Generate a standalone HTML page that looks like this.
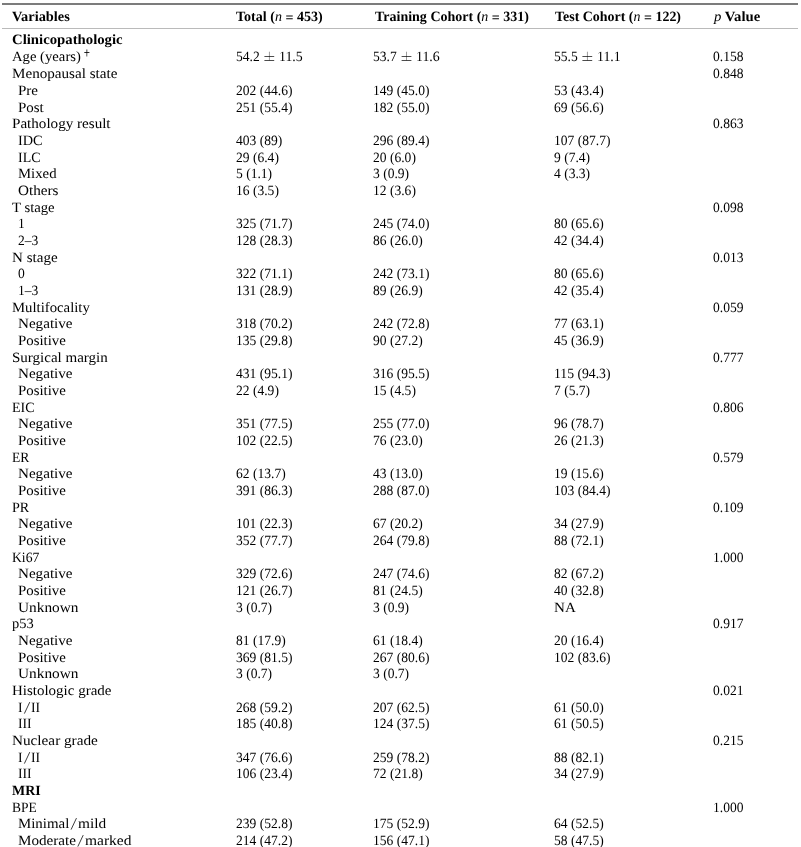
<!DOCTYPE html>
<html><head><meta charset="utf-8"><style>
html,body{margin:0;padding:0;background:#fff;}
body{width:801px;height:847px;position:relative;overflow:hidden;font-family:"Liberation Serif",serif;font-size:14.2px;color:#000;}
#w{position:absolute;left:0;top:0;width:801px;height:847px;will-change:transform;text-rendering:geometricPrecision;}
.t{position:absolute;white-space:nowrap;line-height:14.2px;transform-origin:0 0;}
.b{font-weight:bold;}
.sup{font-size:9px;line-height:9px;}
.pm{font-size:14px;line-height:14px;}
.r1{position:absolute;left:2px;width:796px;top:3px;height:2px;background:#7c7c7c;}
.r2{position:absolute;left:2px;width:796px;top:28px;height:1px;background:#bababa;}
i{font-style:italic;font-weight:normal;}
.eq{position:relative;top:1.4px;}
</style></head><body>
<div id="w"><div class="r1"></div><div class="r2"></div>
<div class="t b" style="left:12.3px;top:10.00px;transform:scaleX(1.0135)">Variables</div>
<div class="t b" style="left:236px;top:10.00px;transform:scaleX(0.9898)">Total (<i>n</i> <span class="eq">=</span> 453)</div>
<div class="t b" style="left:374.5px;top:10.00px;transform:scaleX(0.9870)">Training Cohort (<i>n</i> <span class="eq">=</span> 331)</div>
<div class="t b" style="left:555.2px;top:10.00px;transform:scaleX(0.9831)">Test Cohort (<i>n</i> <span class="eq">=</span> 122)</div>
<div class="t b" style="left:713.7px;top:10.00px;transform:scaleX(1.0367)"><i>p</i> Value</div>
<div class="t b" style="left:11.7px;top:33.00px;transform:scaleX(1.0396)">Clinicopathologic</div>
<div class="t " style="left:11.7px;top:50.00px;transform:scaleX(1.0345)">Age (years)</div>
<svg style="position:absolute;left:0;top:0" width="801" height="100"><rect x="84.3" y="52.1" width="5.1" height="0.85" fill="#000"/><path d="M86.15 49.6 L87.45 49.6 L87.3 56.6 L86.3 56.6 Z" fill="#000" fill-opacity="0.6"/></svg>
<div class="t " style="left:236px;top:50.00px;transform:scaleX(0.9551)">54.2</div>
<svg style="position:absolute;left:0;top:0;overflow:visible" width="801" height="100"><rect x="264.4" y="56.05" width="9.8" height="0.7" fill="#000"/><rect x="264.4" y="60.05" width="9.8" height="0.7" fill="#000"/><rect x="268.94999999999993" y="51.7" width="0.7" height="8.7" fill="#000" fill-opacity="0.55"/></svg>
<div class="t " style="left:278.8px;top:50.00px;transform:scaleX(0.9753)">11.5</div>
<div class="t " style="left:373.2px;top:50.00px;transform:scaleX(0.9551)">53.7</div>
<svg style="position:absolute;left:0;top:0;overflow:visible" width="801" height="100"><rect x="401.59999999999997" y="56.05" width="9.8" height="0.7" fill="#000"/><rect x="401.59999999999997" y="60.05" width="9.8" height="0.7" fill="#000"/><rect x="406.1499999999999" y="51.7" width="0.7" height="8.7" fill="#000" fill-opacity="0.55"/></svg>
<div class="t " style="left:416.0px;top:50.00px;transform:scaleX(0.9753)">11.6</div>
<div class="t " style="left:554.0px;top:50.00px;transform:scaleX(0.9551)">55.5</div>
<svg style="position:absolute;left:0;top:0;overflow:visible" width="801" height="100"><rect x="582.4" y="56.05" width="9.8" height="0.7" fill="#000"/><rect x="582.4" y="60.05" width="9.8" height="0.7" fill="#000"/><rect x="586.9499999999999" y="51.7" width="0.7" height="8.7" fill="#000" fill-opacity="0.55"/></svg>
<div class="t " style="left:596.8px;top:50.00px;transform:scaleX(0.9753)">11.1</div>
<div class="t " style="left:713.4px;top:50.00px;transform:scaleX(0.9551)">0.158</div>
<div class="t " style="left:11.7px;top:67.00px;transform:scaleX(1.0656)">Menopausal state</div>
<div class="t " style="left:713.4px;top:67.00px;transform:scaleX(0.9551)">0.848</div>
<div class="t " style="left:18.4px;top:84.00px;transform:scaleX(1.0584)">Pre</div>
<div class="t " style="left:236px;top:84.00px;transform:scaleX(0.9550)">202 (44.6)</div>
<div class="t " style="left:373.2px;top:84.00px;transform:scaleX(0.9550)">149 (45.0)</div>
<div class="t " style="left:554.0px;top:84.00px;transform:scaleX(0.9550)">53 (43.4)</div>
<div class="t " style="left:18.4px;top:101.00px;transform:scaleX(1.0528)">Post</div>
<div class="t " style="left:236px;top:101.00px;transform:scaleX(0.9550)">251 (55.4)</div>
<div class="t " style="left:373.2px;top:101.00px;transform:scaleX(0.9550)">182 (55.0)</div>
<div class="t " style="left:554.0px;top:101.00px;transform:scaleX(0.9550)">69 (56.6)</div>
<div class="t " style="left:11.7px;top:117.00px;transform:scaleX(1.0644)">Pathology result</div>
<div class="t " style="left:713.4px;top:117.00px;transform:scaleX(0.9551)">0.863</div>
<div class="t " style="left:18.4px;top:134.00px;transform:scaleX(1.0091)">IDC</div>
<div class="t " style="left:236px;top:134.00px;transform:scaleX(0.9550)">403 (89)</div>
<div class="t " style="left:373.2px;top:134.00px;transform:scaleX(0.9550)">296 (89.4)</div>
<div class="t " style="left:554.0px;top:134.00px;transform:scaleX(0.9550)">107 (87.7)</div>
<div class="t " style="left:18.4px;top:151.00px;transform:scaleX(0.9822)">ILC</div>
<div class="t " style="left:236px;top:151.00px;transform:scaleX(0.9550)">29 (6.4)</div>
<div class="t " style="left:373.2px;top:151.00px;transform:scaleX(0.9550)">20 (6.0)</div>
<div class="t " style="left:554.0px;top:151.00px;transform:scaleX(0.9550)">9 (7.4)</div>
<div class="t " style="left:18.4px;top:167.00px;transform:scaleX(1.0398)">Mixed</div>
<div class="t " style="left:236px;top:167.00px;transform:scaleX(0.9550)">5 (1.1)</div>
<div class="t " style="left:373.2px;top:167.00px;transform:scaleX(0.9550)">3 (0.9)</div>
<div class="t " style="left:554.0px;top:167.00px;transform:scaleX(0.9550)">4 (3.3)</div>
<div class="t " style="left:18.4px;top:184.00px;transform:scaleX(1.0717)">Others</div>
<div class="t " style="left:236px;top:184.00px;transform:scaleX(0.9550)">16 (3.5)</div>
<div class="t " style="left:373.2px;top:184.00px;transform:scaleX(0.9550)">12 (3.6)</div>
<div class="t " style="left:11.7px;top:201.00px;transform:scaleX(1.0376)">T stage</div>
<div class="t " style="left:713.4px;top:201.00px;transform:scaleX(0.9551)">0.098</div>
<div class="t " style="left:18.4px;top:217.00px;transform:scaleX(0.9551)">1</div>
<div class="t " style="left:236px;top:217.00px;transform:scaleX(0.9550)">325 (71.7)</div>
<div class="t " style="left:373.2px;top:217.00px;transform:scaleX(0.9550)">245 (74.0)</div>
<div class="t " style="left:554.0px;top:217.00px;transform:scaleX(0.9550)">80 (65.6)</div>
<div class="t " style="left:18.4px;top:234.00px;transform:scaleX(0.9551)">2–3</div>
<div class="t " style="left:236px;top:234.00px;transform:scaleX(0.9550)">128 (28.3)</div>
<div class="t " style="left:373.2px;top:234.00px;transform:scaleX(0.9550)">86 (26.0)</div>
<div class="t " style="left:554.0px;top:234.00px;transform:scaleX(0.9550)">42 (34.4)</div>
<div class="t " style="left:11.7px;top:251.00px;transform:scaleX(1.0618)">N stage</div>
<div class="t " style="left:713.4px;top:251.00px;transform:scaleX(0.9551)">0.013</div>
<div class="t " style="left:18.4px;top:267.00px;transform:scaleX(0.9551)">0</div>
<div class="t " style="left:236px;top:267.00px;transform:scaleX(0.9550)">322 (71.1)</div>
<div class="t " style="left:373.2px;top:267.00px;transform:scaleX(0.9550)">242 (73.1)</div>
<div class="t " style="left:554.0px;top:267.00px;transform:scaleX(0.9550)">80 (65.6)</div>
<div class="t " style="left:18.4px;top:284.00px;transform:scaleX(0.9551)">1–3</div>
<div class="t " style="left:236px;top:284.00px;transform:scaleX(0.9550)">131 (28.9)</div>
<div class="t " style="left:373.2px;top:284.00px;transform:scaleX(0.9550)">89 (26.9)</div>
<div class="t " style="left:554.0px;top:284.00px;transform:scaleX(0.9550)">42 (35.4)</div>
<div class="t " style="left:11.7px;top:301.00px;transform:scaleX(1.0395)">Multifocality</div>
<div class="t " style="left:713.4px;top:301.00px;transform:scaleX(0.9551)">0.059</div>
<div class="t " style="left:18.4px;top:317.00px;transform:scaleX(1.0653)">Negative</div>
<div class="t " style="left:236px;top:317.00px;transform:scaleX(0.9550)">318 (70.2)</div>
<div class="t " style="left:373.2px;top:317.00px;transform:scaleX(0.9550)">242 (72.8)</div>
<div class="t " style="left:554.0px;top:317.00px;transform:scaleX(0.9550)">77 (63.1)</div>
<div class="t " style="left:18.4px;top:334.00px;transform:scaleX(1.0447)">Positive</div>
<div class="t " style="left:236px;top:334.00px;transform:scaleX(0.9550)">135 (29.8)</div>
<div class="t " style="left:373.2px;top:334.00px;transform:scaleX(0.9550)">90 (27.2)</div>
<div class="t " style="left:554.0px;top:334.00px;transform:scaleX(0.9550)">45 (36.9)</div>
<div class="t " style="left:11.7px;top:351.00px;transform:scaleX(1.0572)">Surgical margin</div>
<div class="t " style="left:713.4px;top:351.00px;transform:scaleX(0.9551)">0.777</div>
<div class="t " style="left:18.4px;top:367.00px;transform:scaleX(1.0653)">Negative</div>
<div class="t " style="left:236px;top:367.00px;transform:scaleX(0.9550)">431 (95.1)</div>
<div class="t " style="left:373.2px;top:367.00px;transform:scaleX(0.9550)">316 (95.5)</div>
<div class="t " style="left:554.0px;top:367.00px;transform:scaleX(0.9634)">115 (94.3)</div>
<div class="t " style="left:18.4px;top:384.00px;transform:scaleX(1.0447)">Positive</div>
<div class="t " style="left:236px;top:384.00px;transform:scaleX(0.9550)">22 (4.9)</div>
<div class="t " style="left:373.2px;top:384.00px;transform:scaleX(0.9550)">15 (4.5)</div>
<div class="t " style="left:554.0px;top:384.00px;transform:scaleX(0.9550)">7 (5.7)</div>
<div class="t " style="left:11.7px;top:401.00px;transform:scaleX(0.9822)">EIC</div>
<div class="t " style="left:713.4px;top:401.00px;transform:scaleX(0.9551)">0.806</div>
<div class="t " style="left:18.4px;top:417.00px;transform:scaleX(1.0653)">Negative</div>
<div class="t " style="left:236px;top:417.00px;transform:scaleX(0.9550)">351 (77.5)</div>
<div class="t " style="left:373.2px;top:417.00px;transform:scaleX(0.9550)">255 (77.0)</div>
<div class="t " style="left:554.0px;top:417.00px;transform:scaleX(0.9550)">96 (78.7)</div>
<div class="t " style="left:18.4px;top:434.00px;transform:scaleX(1.0447)">Positive</div>
<div class="t " style="left:236px;top:434.00px;transform:scaleX(0.9550)">102 (22.5)</div>
<div class="t " style="left:373.2px;top:434.00px;transform:scaleX(0.9550)">76 (23.0)</div>
<div class="t " style="left:554.0px;top:434.00px;transform:scaleX(0.9550)">26 (21.3)</div>
<div class="t " style="left:11.7px;top:451.00px;transform:scaleX(0.9553)">ER</div>
<div class="t " style="left:713.4px;top:451.00px;transform:scaleX(0.9551)">0.579</div>
<div class="t " style="left:18.4px;top:467.00px;transform:scaleX(1.0653)">Negative</div>
<div class="t " style="left:236px;top:467.00px;transform:scaleX(0.9550)">62 (13.7)</div>
<div class="t " style="left:373.2px;top:467.00px;transform:scaleX(0.9550)">43 (13.0)</div>
<div class="t " style="left:554.0px;top:467.00px;transform:scaleX(0.9550)">19 (15.6)</div>
<div class="t " style="left:18.4px;top:484.00px;transform:scaleX(1.0447)">Positive</div>
<div class="t " style="left:236px;top:484.00px;transform:scaleX(0.9550)">391 (86.3)</div>
<div class="t " style="left:373.2px;top:484.00px;transform:scaleX(0.9550)">288 (87.0)</div>
<div class="t " style="left:554.0px;top:484.00px;transform:scaleX(0.9550)">103 (84.4)</div>
<div class="t " style="left:11.7px;top:501.00px;transform:scaleX(0.9929)">PR</div>
<div class="t " style="left:713.4px;top:501.00px;transform:scaleX(0.9551)">0.109</div>
<div class="t " style="left:18.4px;top:517.00px;transform:scaleX(1.0653)">Negative</div>
<div class="t " style="left:236px;top:517.00px;transform:scaleX(0.9550)">101 (22.3)</div>
<div class="t " style="left:373.2px;top:517.00px;transform:scaleX(0.9550)">67 (20.2)</div>
<div class="t " style="left:554.0px;top:517.00px;transform:scaleX(0.9550)">34 (27.9)</div>
<div class="t " style="left:18.4px;top:534.00px;transform:scaleX(1.0447)">Positive</div>
<div class="t " style="left:236px;top:534.00px;transform:scaleX(0.9550)">352 (77.7)</div>
<div class="t " style="left:373.2px;top:534.00px;transform:scaleX(0.9550)">264 (79.8)</div>
<div class="t " style="left:554.0px;top:534.00px;transform:scaleX(0.9550)">88 (72.1)</div>
<div class="t " style="left:11.7px;top:551.00px;transform:scaleX(0.9632)">Ki67</div>
<div class="t " style="left:713.4px;top:551.00px;transform:scaleX(0.9551)">1.000</div>
<div class="t " style="left:18.4px;top:567.00px;transform:scaleX(1.0653)">Negative</div>
<div class="t " style="left:236px;top:567.00px;transform:scaleX(0.9550)">329 (72.6)</div>
<div class="t " style="left:373.2px;top:567.00px;transform:scaleX(0.9550)">247 (74.6)</div>
<div class="t " style="left:554.0px;top:567.00px;transform:scaleX(0.9550)">82 (67.2)</div>
<div class="t " style="left:18.4px;top:584.00px;transform:scaleX(1.0447)">Positive</div>
<div class="t " style="left:236px;top:584.00px;transform:scaleX(0.9550)">121 (26.7)</div>
<div class="t " style="left:373.2px;top:584.00px;transform:scaleX(0.9550)">81 (24.5)</div>
<div class="t " style="left:554.0px;top:584.00px;transform:scaleX(0.9550)">40 (32.8)</div>
<div class="t " style="left:18.4px;top:601.00px;transform:scaleX(1.0798)">Unknown</div>
<div class="t " style="left:236px;top:601.00px;transform:scaleX(0.9550)">3 (0.7)</div>
<div class="t " style="left:373.2px;top:601.00px;transform:scaleX(0.9550)">3 (0.9)</div>
<div class="t " style="left:554.0px;top:601.00px;transform:scaleX(1.0635)">NA</div>
<div class="t " style="left:11.7px;top:617.00px;transform:scaleX(1.0194)">p53</div>
<div class="t " style="left:713.4px;top:617.00px;transform:scaleX(0.9551)">0.917</div>
<div class="t " style="left:18.4px;top:634.00px;transform:scaleX(1.0653)">Negative</div>
<div class="t " style="left:236px;top:634.00px;transform:scaleX(0.9550)">81 (17.9)</div>
<div class="t " style="left:373.2px;top:634.00px;transform:scaleX(0.9550)">61 (18.4)</div>
<div class="t " style="left:554.0px;top:634.00px;transform:scaleX(0.9550)">20 (16.4)</div>
<div class="t " style="left:18.4px;top:651.00px;transform:scaleX(1.0447)">Positive</div>
<div class="t " style="left:236px;top:651.00px;transform:scaleX(0.9550)">369 (81.5)</div>
<div class="t " style="left:373.2px;top:651.00px;transform:scaleX(0.9550)">267 (80.6)</div>
<div class="t " style="left:554.0px;top:651.00px;transform:scaleX(0.9550)">102 (83.6)</div>
<div class="t " style="left:18.4px;top:667.00px;transform:scaleX(1.0798)">Unknown</div>
<div class="t " style="left:236px;top:667.00px;transform:scaleX(0.9550)">3 (0.7)</div>
<div class="t " style="left:373.2px;top:667.00px;transform:scaleX(0.9550)">3 (0.7)</div>
<div class="t " style="left:11.7px;top:684.00px;transform:scaleX(1.0558)">Histologic grade</div>
<div class="t " style="left:713.4px;top:684.00px;transform:scaleX(0.9551)">0.021</div>
<div class="t " style="left:18.4px;top:701.00px;transform:scaleX(0.9645)">I</div>
<svg style="position:absolute;left:0;top:0;overflow:visible" width="801" height="10"><line x1="24.37" y1="713.6" x2="29.78" y2="702.1" stroke="#000" stroke-width="0.85" stroke-opacity="0.9"/></svg>
<div class="t " style="left:31.17765px;top:701.00px;transform:scaleX(0.9661)">II</div>
<div class="t " style="left:236px;top:701.00px;transform:scaleX(0.9550)">268 (59.2)</div>
<div class="t " style="left:373.2px;top:701.00px;transform:scaleX(0.9550)">207 (62.5)</div>
<div class="t " style="left:554.0px;top:701.00px;transform:scaleX(0.9550)">61 (50.0)</div>
<div class="t " style="left:18.4px;top:717.00px;transform:scaleX(0.9656)">III</div>
<div class="t " style="left:236px;top:717.00px;transform:scaleX(0.9550)">185 (40.8)</div>
<div class="t " style="left:373.2px;top:717.00px;transform:scaleX(0.9550)">124 (37.5)</div>
<div class="t " style="left:554.0px;top:717.00px;transform:scaleX(0.9550)">61 (50.5)</div>
<div class="t " style="left:11.7px;top:734.00px;transform:scaleX(1.0735)">Nuclear grade</div>
<div class="t " style="left:713.4px;top:734.00px;transform:scaleX(0.9551)">0.215</div>
<div class="t " style="left:18.4px;top:751.00px;transform:scaleX(0.9645)">I</div>
<svg style="position:absolute;left:0;top:0;overflow:visible" width="801" height="10"><line x1="24.37" y1="763.6" x2="29.78" y2="752.1" stroke="#000" stroke-width="0.85" stroke-opacity="0.9"/></svg>
<div class="t " style="left:31.17765px;top:751.00px;transform:scaleX(0.9661)">II</div>
<div class="t " style="left:236px;top:751.00px;transform:scaleX(0.9550)">347 (76.6)</div>
<div class="t " style="left:373.2px;top:751.00px;transform:scaleX(0.9550)">259 (78.2)</div>
<div class="t " style="left:554.0px;top:751.00px;transform:scaleX(0.9550)">88 (82.1)</div>
<div class="t " style="left:18.4px;top:767.00px;transform:scaleX(0.9656)">III</div>
<div class="t " style="left:236px;top:767.00px;transform:scaleX(0.9550)">106 (23.4)</div>
<div class="t " style="left:373.2px;top:767.00px;transform:scaleX(0.9550)">72 (21.8)</div>
<div class="t " style="left:554.0px;top:767.00px;transform:scaleX(0.9550)">34 (27.9)</div>
<div class="t b" style="left:11.7px;top:784.00px;transform:scaleX(0.9805)">MRI</div>
<div class="t " style="left:11.7px;top:801.00px;transform:scaleX(0.9505)">BPE</div>
<div class="t " style="left:713.4px;top:801.00px;transform:scaleX(0.9551)">1.000</div>
<div class="t " style="left:18.4px;top:817.00px;transform:scaleX(1.0491)">Minimal</div>
<svg style="position:absolute;left:0;top:0;overflow:visible" width="801" height="10"><line x1="71.07" y1="829.6" x2="76.48" y2="818.1" stroke="#000" stroke-width="0.85" stroke-opacity="0.9"/></svg>
<div class="t " style="left:77.8845px;top:817.00px;transform:scaleX(1.0813)">mild</div>
<div class="t " style="left:236px;top:817.00px;transform:scaleX(0.9550)">239 (52.8)</div>
<div class="t " style="left:373.2px;top:817.00px;transform:scaleX(0.9550)">175 (52.9)</div>
<div class="t " style="left:554.0px;top:817.00px;transform:scaleX(0.9550)">64 (52.5)</div>
<div class="t " style="left:18.4px;top:834.00px;transform:scaleX(1.0671)">Moderate</div>
<svg style="position:absolute;left:0;top:0;overflow:visible" width="801" height="10"><line x1="77.82" y1="846.6" x2="83.23" y2="835.1" stroke="#000" stroke-width="0.85" stroke-opacity="0.9"/></svg>
<div class="t " style="left:84.63239999999999px;top:834.00px;transform:scaleX(1.0904)">marked</div>
<div class="t " style="left:236px;top:834.00px;transform:scaleX(0.9550)">214 (47.2)</div>
<div class="t " style="left:373.2px;top:834.00px;transform:scaleX(0.9550)">156 (47.1)</div>
<div class="t " style="left:554.0px;top:834.00px;transform:scaleX(0.9550)">58 (47.5)</div>
</div></body></html>
